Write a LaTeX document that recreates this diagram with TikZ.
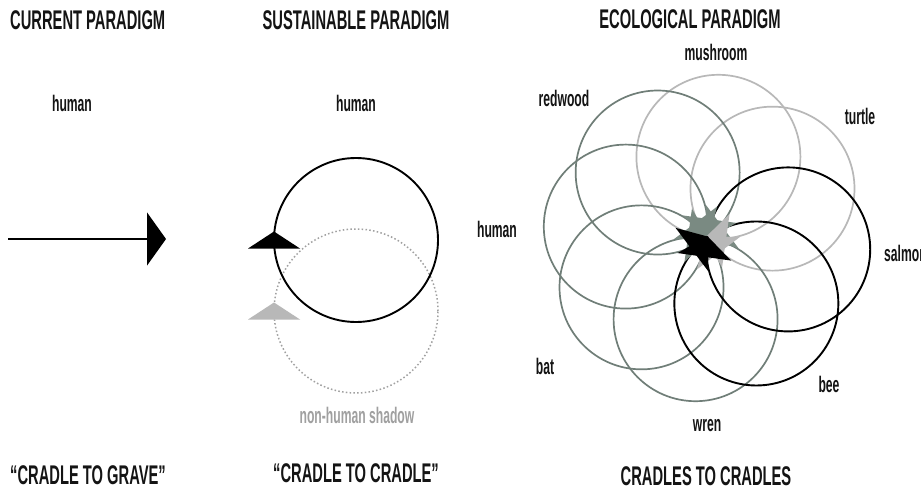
\documentclass[tikz,border=0pt]{standalone}
\usepackage{fontspec}
\setmainfont{Liberation Sans}[FakeStretch=0.62]
\newfontfamily\tfont{Liberation Sans}[FakeStretch=0.545]
\newfontfamily\lfont{Liberation Sans}[FakeStretch=0.54]
\usetikzlibrary{arrows.meta}
\definecolor{sage}{RGB}{112,126,120}
\definecolor{sagelt}{RGB}{122,138,130}
\definecolor{lgray}{RGB}{184,184,184}
\definecolor{dotgray}{RGB}{160,160,160}
\definecolor{ink}{RGB}{20,20,20}
\tikzset{
  arrowtri/.pic={\fill (0,8.5) -- (26,-8.5) -- (-26,-8.5) -- cycle;},
  startri/.pic={\fill (0,2) -- (27,-19) -- (-27,-19) -- cycle;},
  title/.style={font=\tfont\bfseries\fontsize{27}{32}\selectfont, text=ink, inner sep=0pt},
  lbl/.style={font=\lfont\bfseries\fontsize{22.5}{27}\selectfont, text=ink, inner sep=0pt},
}
\begin{document}
\begin{tikzpicture}[x=1pt,y=1pt]
\useasboundingbox (0,0) rectangle (921,491);
\fill[white] (0,0) rectangle (921,491);

% titles
\node[title, anchor=west] (t1) at (10,471) {CURRENT PARADIGM};
\node[title] (t2) at (356,471) {SUSTAINABLE PARADIGM};
\node[title] (t3) at (690,472) {ECOLOGICAL PARADIGM};
\node[title] (b1) at (88,16) {“CRADLE TO GRAVE”};
\node[title] (b2) at (356,18) {“CRADLE TO CRADLE”};
\node[title] (b3) at (706,15) {CRADLES TO CRADLES};

% current paradigm
\node[lbl] (h1) at (72,388) {human};
\coordinate (l0) at (8,252);
\coordinate (l1) at (166,252);
\draw[line width=1.6pt, -{Triangle[length=19pt,width=53pt]}] (l0) -- (l1);

% sustainable paradigm
\node[lbl] (h2) at (356,388) {human};
\node[lbl, text=dotgray] (nh) at (357,76) {non-human shadow};
\coordinate (sc) at (356,251);
\coordinate (dc) at (356,180);
\draw[dotgray, line width=1.5pt, dash pattern=on 1.5pt off 2.3pt] (dc) circle[radius=82];
\draw[black, line width=1.9pt] (sc) circle[radius=82];
\pic[black] at (274,251) {arrowtri};
\pic[lgray] at (274,180) {arrowtri};

% ecological paradigm
\coordinate (P) at (707,253);
\foreach \t in {82,37}
  \draw[lgray, line width=1.7pt] ([shift={(\t:82)}]P) circle[radius=82];
\foreach \t in {172,127,-98,-143}
  \draw[sage, line width=1.7pt] ([shift={(\t:82)}]P) circle[radius=82];
\foreach \t in {-8,-53}
  \draw[black, line width=1.9pt] ([shift={(\t:82)}]P) circle[radius=82];
\foreach \t in {172,127,-98,-143}
  \pic[sagelt, rotate=\t] at (P) {startri};
\foreach \t in {82,37}
  \pic[lgray, rotate=\t] at (P) {startri};
\foreach \t in {-8,-53}
  \pic[black, rotate=\t] at (P) {startri};

\node[lbl] (eh) at (497,262) {human};
\node[lbl] (rw) at (564,393) {redwood};
\node[lbl] (mu) at (716,439) {mushroom};
\node[lbl] (tu) at (860,375) {turtle};
\node[lbl, anchor=west] (sa) at (884,238) {salmon};
\node[lbl] (be) at (829,107) {bee};
\node[lbl] (wr) at (707,65) {wren};
\node[lbl] (ba) at (545,125) {bat};
\end{tikzpicture}
\end{document}
